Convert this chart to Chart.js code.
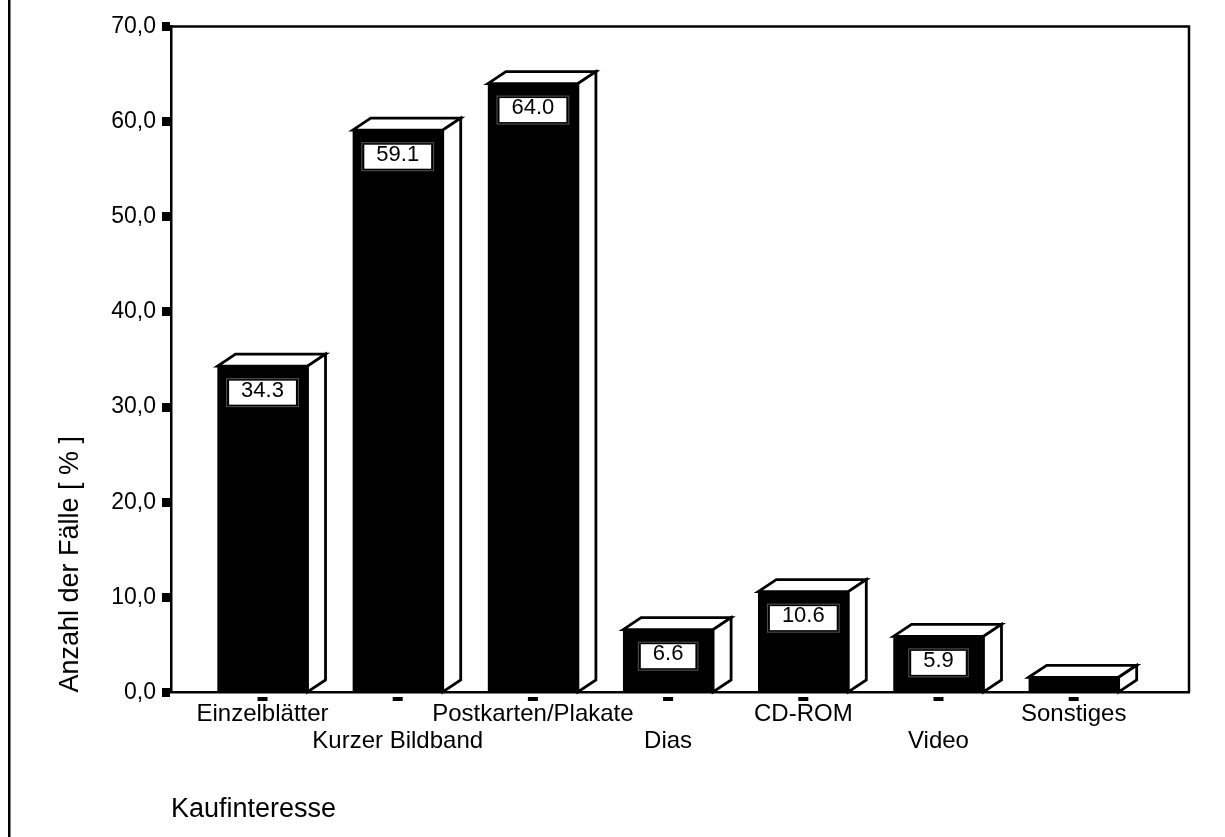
<!DOCTYPE html>
<html>
<head>
<meta charset="utf-8">
<script src="https://cdn.jsdelivr.net/npm/chart.js@4.4.0/dist/chart.umd.min.js"></script>
<style>
    html, body { margin: 0; padding: 0; background: #fff; }
</style>
</head>
<body>
<canvas id="myChart" width="1225" height="837"></canvas>
<script>
const categories = ["Einzelblätter", "Kurzer Bildband", "Postkarten/Plakate", "Dias", "CD-ROM", "Video", "Sonstiges"];
const values = [34.3, 59.1, 64.0, 6.6, 10.6, 5.9, 1.6];
const yTitle = "Anzahl der Fälle [ % ]";
const xTitle = "Kaufinteresse";

const FONT = "'Liberation Sans', Arial, sans-serif";

// 3D boxes, value labels, frame and small x tick dashes
const box3d = {
    id: "box3d",
    beforeDraw(chart) {
        const ctx = chart.ctx;
        ctx.save();
        ctx.fillStyle = "#fff";
        ctx.fillRect(0, 0, chart.width, chart.height);
        ctx.fillStyle = "#000";
        ctx.fillRect(8, 0, 2.5, chart.height);
        ctx.restore();
    },
    afterDatasetsDraw(chart) {
        const ctx = chart.ctx;
        const meta = chart.getDatasetMeta(0);
        const dx = 18, dy = 12;
        ctx.save();
        ctx.lineWidth = 2.8;
        ctx.strokeStyle = "#000";
        ctx.lineJoin = "miter";
        meta.data.forEach((bar, i) => {
            const { x, y, base, width } = bar.getProps(["x", "y", "base", "width"], true);
            const l = x - width / 2, r = x + width / 2;
            ctx.fillStyle = "#fff";
            // top face
            ctx.beginPath();
            ctx.moveTo(l, y);
            ctx.lineTo(l + dx, y - dy);
            ctx.lineTo(r + dx, y - dy);
            ctx.lineTo(r, y);
            ctx.closePath();
            ctx.fill();
            ctx.stroke();
            // side face
            ctx.beginPath();
            ctx.moveTo(r, y);
            ctx.lineTo(r + dx, y - dy);
            ctx.lineTo(r + dx, base - dy);
            ctx.lineTo(r, base);
            ctx.closePath();
            ctx.fill();
            ctx.stroke();

            if (values[i] > 3) {
                const txt = values[i].toFixed(1);
                ctx.font = "22px " + FONT;
                const tw = ctx.measureText(txt).width;
                const bw = tw + 30, bh = 29;
                const bx = x - bw / 2, by = y + 12;
                ctx.save();
                ctx.lineWidth = 1;
                ctx.strokeStyle = "#555";
                ctx.strokeRect(bx + 0.5, by + 0.5, bw - 1, bh - 1);
                ctx.fillStyle = "#fff";
                ctx.fillRect(bx + 3, by + 2.5, bw - 6, bh - 5);
                ctx.fillStyle = "#000";
                ctx.textAlign = "center";
                ctx.textBaseline = "alphabetic";
                ctx.fillText(txt, x, by + 18.5);
                ctx.restore();
            }
        });
        ctx.restore();
    },
    afterDraw(chart) {
        const ctx = chart.ctx;
        const a = chart.chartArea;
        const xs = chart.scales.x;
        ctx.save();
        ctx.strokeStyle = "#000";
        ctx.lineWidth = 2.5;
        ctx.beginPath();
        ctx.moveTo(a.left, a.top);
        ctx.lineTo(a.right, a.top);
        ctx.lineTo(a.right, a.bottom);
        ctx.stroke();
        ctx.fillStyle = "#000";
        categories.forEach((c, i) => {
            const px = xs.getPixelForValue(i);
            ctx.fillRect(px - 5, a.bottom + 4.5, 10, 4);
        });
        ctx.restore();
    }
};

new Chart("myChart", {
    type: "bar",
    data: {
        datasets: [{
            data: values.map((v, i) => ({ x: i, y: v })),
            backgroundColor: "#000",
            borderColor: "#000",
            borderWidth: 2,
            barThickness: 90
        }]
    },
    plugins: [box3d],
    options: {
        responsive: false,
        animation: false,
        events: [],
        layout: { padding: { top: 26.5, right: 36, bottom: 0, left: 0 } },
        plugins: {
            legend: { display: false },
            tooltip: { enabled: false }
        },
        scales: {
            x: {
                type: "linear",
                min: -0.677,
                max: 6.853,
                offset: false,
                afterFit: (s) => { s.height = 144.5; },
                grid: { display: true, drawOnChartArea: false, drawTicks: false, offset: false },
                border: { display: true, color: "#000", width: 2.5 },
                ticks: {
                    stepSize: 1,
                    includeBounds: false,
                    autoSkip: false,
                    maxRotation: 0,
                    padding: 8,
                    color: "#000",
                    font: { family: FONT, size: 24, lineHeight: 1.125 },
                    callback: (v) => {
                        const i = Math.round(v);
                        if (Math.abs(v - i) > 1e-6 || i < 0 || i >= categories.length) return "";
                        return i % 2 === 0 ? categories[i] : ["", categories[i]];
                    }
                },
                title: {
                    display: true,
                    text: xTitle,
                    align: "start",
                    color: "#000",
                    font: { family: FONT, size: 27, lineHeight: 1.2 },
                    padding: { top: 0, bottom: 11 }
                }
            },
            y: {
                min: 0,
                max: 70,
                afterFit: (s) => { s.width = 171; },
                grid: { drawOnChartArea: false, tickLength: 9, tickWidth: 9, tickColor: "#000" },
                border: { display: true, color: "#000", width: 2.5 },
                ticks: {
                    stepSize: 10,
                    padding: 6,
                    color: "#000",
                    font: { family: FONT, size: 23 },
                    callback: (v) => v.toFixed(1).replace(".", ",")
                },
                title: {
                    display: true,
                    text: yTitle,
                    align: "start",
                    color: "#000",
                    font: { family: FONT, size: 27, lineHeight: 1.2 },
                    padding: { top: 54, bottom: 0 }
                }
            }
        }
    }
});
</script>
</body>
</html>
